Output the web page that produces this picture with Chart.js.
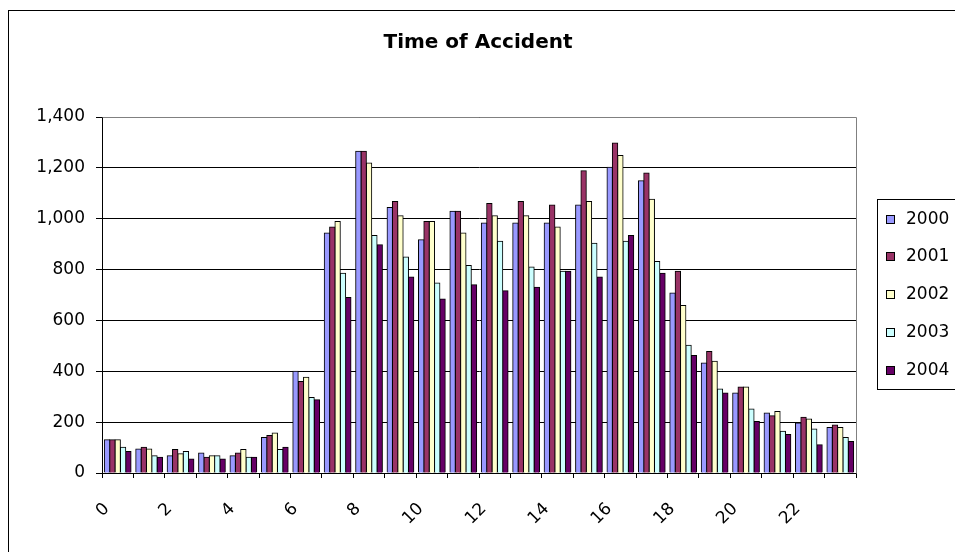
<!DOCTYPE html>
<html>
<head>
<meta charset="utf-8">
<style>
  html, body { margin: 0; padding: 0; background: #fff; overflow: hidden; }
  #wrap { position: relative; width: 955px; height: 552px; }
</style>
<script src="https://cdn.jsdelivr.net/npm/chart.js@4/dist/chart.umd.min.js"></script>
</head>
<body>
<div id="wrap"><canvas id="c" width="955" height="552"></canvas></div>
<script>
// Hour of the day (0-23)
const hours = ['0','1','2','3','4','5','6','7','8','9','10','11','12','13','14','15','16','17','18','19','20','21','22','23'];

// Accidents per hour, one array per year
const y2000 = [131, 94, 68, 79, 68, 140, 400, 944, 1265, 1044, 917, 1029, 983, 983, 983, 1054, 1202, 1149, 708, 433, 315, 236, 197, 179];
const y2001 = [131, 101, 92, 62, 79, 147, 360, 967, 1265, 1068, 989, 1029, 1060, 1068, 1054, 1189, 1298, 1180, 793, 478, 338, 225, 219, 189];
const y2002 = [131, 94, 76, 68, 92, 157, 377, 989, 1219, 1012, 989, 944, 1012, 1012, 967, 1068, 1249, 1077, 659, 439, 338, 242, 212, 179];
const y2003 = [101, 68, 85, 68, 62, 92, 297, 786, 934, 849, 747, 816, 911, 810, 793, 904, 911, 832, 502, 330, 252, 164, 173, 140];
const y2004 = [85, 62, 55, 55, 62, 101, 288, 690, 898, 771, 684, 740, 717, 730, 793, 771, 934, 786, 462, 315, 203, 151, 111, 124];

const years = ['2000', '2001', '2002', '2003', '2004'];
const series = [y2000, y2001, y2002, y2003, y2004];
const colors = ['#9999FF', '#993366', '#FFFFCC', '#CCFFFF', '#660066'];

const chartTitle = 'Time of Accident';

// Y axis ticks
const yMin = 0, yMax = 1400, yStep = 200;

const FONT = '"DejaVu Sans", "Liberation Sans", Arial, sans-serif';

// Outer frame, title, plot border and the boxed legend on the right
const framePlugin = {
  id: 'frame',
  beforeDraw(chart) {
    const ctx = chart.ctx;
    ctx.save();
    ctx.fillStyle = '#fff';
    ctx.fillRect(0, 0, chart.width, chart.height);
    ctx.strokeStyle = '#000';
    ctx.lineWidth = 1;
    ctx.strokeRect(8.5, 10.5, 1200, 1200);
    ctx.fillStyle = '#000';
    ctx.font = 'bold 20px ' + FONT;
    ctx.textAlign = 'center';
    ctx.textBaseline = 'middle';
    ctx.fillText(chartTitle, 478, 43);
    ctx.restore();
  },
  afterDatasetsDraw(chart) {
    const ctx = chart.ctx;
    const a = chart.chartArea;
    ctx.save();
    ctx.strokeStyle = '#808080';
    ctx.lineWidth = 1;
    ctx.beginPath();
    ctx.moveTo(Math.round(a.left) + 0.5, Math.round(a.top) + 0.5);
    ctx.lineTo(Math.round(a.right) + 0.5, Math.round(a.top) + 0.5);
    ctx.lineTo(Math.round(a.right) + 0.5, Math.round(a.bottom) + 0.5);
    ctx.stroke();
    ctx.restore();
  },
  afterDraw(chart) {
    const ctx = chart.ctx;
    const ds = chart.data.datasets;
    const boxLeft = 877.5, boxTop = 199.5, boxH = 190;
    ctx.save();
    ctx.strokeStyle = '#000';
    ctx.lineWidth = 1;
    ctx.strokeRect(boxLeft, boxTop, 200, boxH);
    const rowH = 37.8;
    const firstY = 218.5;
    ctx.font = '17px ' + FONT;
    ctx.textBaseline = 'middle';
    ctx.textAlign = 'left';
    ds.forEach((d, i) => {
      const cy = Math.round(firstY + i * rowH);
      ctx.fillStyle = d.backgroundColor;
      ctx.fillRect(886, cy - 4, 9, 9);
      ctx.strokeStyle = '#000';
      ctx.strokeRect(886.5, cy - 3.5, 8, 8);
      ctx.fillStyle = '#000';
      ctx.fillText(d.label, 906, cy + 1);
    });
    ctx.restore();
  }
};

new Chart(document.getElementById('c'), {
  type: 'bar',
  data: {
    labels: hours,
    datasets: years.map((yr, i) => ({
      label: yr,
      data: series[i],
      backgroundColor: colors[i],
      borderColor: '#000',
      borderWidth: 1,
      inflateAmount: 0.5,
      categoryPercentage: 0.85,
      barPercentage: 1.0
    }))
  },
  options: {
    responsive: false,
    animation: false,
    devicePixelRatio: 1,
    layout: { padding: { left: 0, top: 117, right: 99, bottom: 0 } },
    plugins: {
      legend: { display: false },
      tooltip: { enabled: false },
      title: { display: false }
    },
    scales: {
      x: {
        offset: true,
        grid: {
          offset: true,
          drawOnChartArea: false,
          drawTicks: true,
          tickLength: 5,
          tickColor: '#000',
          color: '#000'
        },
        border: { color: '#000', width: 1 },
        ticks: {
          autoSkip: false,
          minRotation: 45,
          maxRotation: 45,
          color: '#000',
          padding: 21,
          labelOffset: -11,
          font: { family: FONT, size: 17 },
          callback: (v, i) => (i % 2 === 0 ? hours[i] : '')
        },
        afterFit: (s) => { s.height = 79; }
      },
      y: {
        min: yMin,
        max: yMax,
        grid: {
          color: '#000',
          lineWidth: 1,
          tickLength: 6,
          tickColor: '#000'
        },
        border: { color: '#000', width: 1 },
        ticks: {
          stepSize: yStep,
          color: '#000',
          padding: 11,
          font: { family: FONT, size: 17 },
          callback: (v) => v.toLocaleString('en-US')
        },
        afterFit: (s) => { s.width = 102; }
      }
    }
  },
  plugins: [framePlugin]
});
</script>
</body>
</html>
